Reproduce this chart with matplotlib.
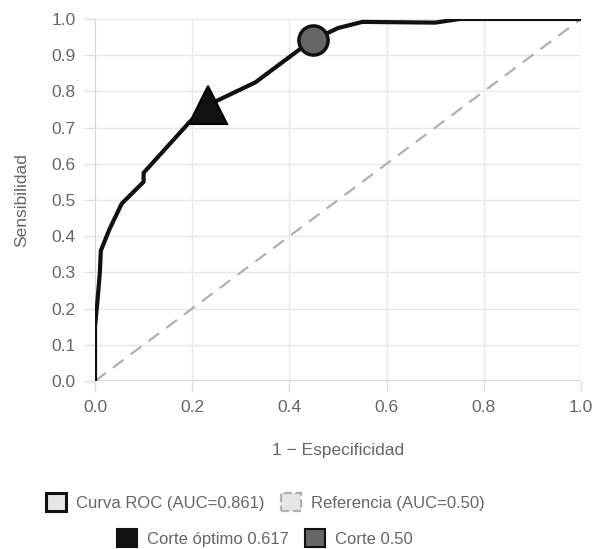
import matplotlib
matplotlib.use('Agg')
from matplotlib import pyplot as plt
from matplotlib.patches import Patch

plt.rcParams['font.family'] = ['Liberation Sans', 'DejaVu Sans']

# curva ROC
fpr = [0.0, 0.0, 0.005, 0.01, 0.012, 0.03, 0.055, 0.10, 0.10, 0.195, 0.232, 0.33, 0.42, 0.449, 0.50, 0.55, 0.70, 0.75, 1.0]
tpr = [0.0, 0.15, 0.22, 0.30, 0.36, 0.42, 0.49, 0.55, 0.575, 0.716, 0.762, 0.825, 0.915, 0.942, 0.975, 0.992, 0.99, 1.0, 1.0]
ref_x = [0.0, 1.0]
ref_y = [0.0, 1.0]
opt_pt = (0.232, 0.762)
half_pt = (0.449, 0.942)
ticks = [0.0, 0.1, 0.2, 0.3, 0.4, 0.5, 0.6, 0.7, 0.8, 0.9, 1.0]
xticks = [0.0, 0.2, 0.4, 0.6, 0.8, 1.0]

grey = '#666666'
fig = plt.figure(figsize=(5.96, 5.49), dpi=100)
ax = fig.add_axes([95/596, 1-381/549, 486/596, 362/549])

ax.plot(ref_x, ref_y, color='#b0b0b0', lw=1.6, dashes=(6, 4), zorder=2)
ax.plot(fpr, tpr, color='#111111', lw=3, solid_joinstyle='round', zorder=3)
ax.plot(*opt_pt, marker='^', ms=28, color='#111111', mec='#000000', mew=1.5, zorder=4, clip_on=False)
ax.plot(*half_pt, marker='o', ms=21, color='#666666', mec='#111111', mew=2.5, zorder=4, clip_on=False)

ax.set_xlim(0, 1)
ax.set_ylim(0, 1)
ax.set_yticks(ticks)
ax.set_xticks(xticks)
ax.set_yticklabels(['%.1f' % t for t in ticks])
ax.set_xticklabels(['%.1f' % t for t in xticks])
ax.grid(color='#e8e8e8', lw=1)
ax.set_axisbelow(True)
ax.tick_params(colors='#dddddd', labelcolor=grey, labelsize=12.5, length=8, width=1, pad=6)
for s in ax.spines.values():
    s.set_visible(False)
ax.axhline(0, color='#d0d0d0', lw=1.2, zorder=1)
ax.axvline(0, color='#d0d0d0', lw=1.2, zorder=1)

ax.set_xlabel('1 − Especificidad', color=grey, fontsize=12.5, labelpad=20)
ax.set_ylabel('Sensibilidad', color=grey, fontsize=12.5, labelpad=16)

h1 = [Patch(facecolor='#e6e6e6', edgecolor='#111111', lw=2.2, label='Curva ROC (AUC=0.861)'),
      Patch(facecolor='#e6e6e6', edgecolor='#b0b0b0', lw=1.6, ls='--', label='Referencia (AUC=0.50)')]
h2 = [Patch(facecolor='#111111', edgecolor='#111111', lw=1.5, label='Corte óptimo 0.617'),
      Patch(facecolor='#666666', edgecolor='#111111', lw=1.5, label='Corte 0.50')]
kw = dict(ncol=2, frameon=False, fontsize=12, labelcolor=grey, handlelength=1.2, handleheight=1.2,
          handletextpad=0.6, columnspacing=1.0, loc='center')
fig.legend(handles=h1, bbox_to_anchor=(265/596, 1-502/549), **kw)
fig.legend(handles=h2, bbox_to_anchor=(265/596, 1-538/549), **kw)

plt.savefig('out.png', dpi=100)
